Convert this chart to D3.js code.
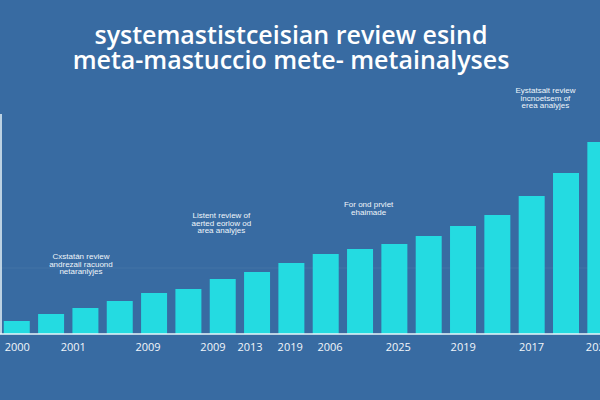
<!DOCTYPE html>
<html>
<head>
<meta charset="utf-8">
<script src="https://cdn.jsdelivr.net/npm/d3@7"></script>
<style>
    body { margin: 0; background: #386ba2; }
    svg { display: block; }
    .tick text { font-family: "Open Sans", sans-serif; }
</style>
</head>
<body>
<svg id="chart" width="600" height="400"></svg>
<script>
// bar values (bars rise left to right)
let barValues = [13, 20, 26, 33, 41, 45, 55, 62, 71, 80, 85, 90, 98, 108, 119, 138, 161, 192];

// x-axis labels and where they sit, in bar-index units
let tickLabels = ["2000", "2001", "2009", "2009", "2013", "2019", "2006", "2025", "2019", "2017", "2021"];
let tickPositions = [0, 1.63, 3.81, 5.7, 6.78, 7.95, 9.11, 11.1, 12.99, 14.98, 16.93];

let titleLines = ["systemastistceisian review esind", "meta-mastuccio mete- metainalyses"];

// annotations: text lines, bar-index position and value height
let noteLines = [
    ["Cxstatán review", "andrezail racuond", "netaranlyjes"],
    ["Listent review of", "aerted eorlow od", "area analyjes"],
    ["For ond prvlet", "ehaimade"],
    ["Eystatsalt review", "incnoetsem of", "erea analyjes"]
];
let noteX = [1.87, 5.96, 10.25, 15.4];
let noteY = [75, 116, 127, 241];

let gridValues = [66];

function make_scales(margin) {
    let x = d3.scaleBand()
        .domain(d3.range(barValues.length))
        .range([-0.4, 617.5])
        .paddingInner(0.243)
        .paddingOuter(0.1215);
    let first = x(0) + x.bandwidth() / 2;
    let last = x(barValues.length - 1) + x.bandwidth() / 2;
    return {
        x: x,
        pos: d3.scaleLinear().domain([0, barValues.length - 1]).range([first, last]),
        y: d3.scaleLinear().domain([0, 200]).range([margin.baseline, margin.baseline - 200])
    };
}

function visualize() {
    let margin = { baseline: 334, axisTop: 114 };
    let scales = make_scales(margin);
    let svg = d3.select("#chart");

    svg.append("rect")
        .attr("width", 600).attr("height", 400)
        .attr("fill", "#386ba2");

    // faint gridline
    svg.selectAll(".grid")
        .data(gridValues).enter()
        .append("line")
        .attr("x1", 0).attr("x2", 600)
        .attr("y1", d => scales.y(d)).attr("y2", d => scales.y(d))
        .attr("stroke", "rgba(255,255,255,0.06)");

    // title
    svg.append("g").selectAll("text")
        .data(titleLines).enter()
        .append("text")
        .attr("x", 291)
        .attr("y", (_, i) => 44 + i * 25)
        .attr("text-anchor", "middle")
        .attr("fill", "#ffffff")
        .style("font-family", "'Open Sans', sans-serif")
        .style("font-weight", 600)
        .style("font-size", "25px")
        .text(d => d);

    // bars
    svg.append("g").selectAll("rect")
        .data(barValues).enter()
        .append("rect")
        .attr("x", (_, i) => scales.x(i))
        .attr("width", scales.x.bandwidth())
        .attr("y", d => scales.y(d))
        .attr("height", d => scales.y(0) - scales.y(d))
        .attr("fill", "#24dbe1");

    // left axis line
    svg.append("line")
        .attr("x1", 1).attr("x2", 1)
        .attr("y1", margin.axisTop).attr("y2", margin.baseline)
        .attr("stroke", "#e8f4f8").attr("stroke-width", 1.5);

    // bottom axis
    let x_axis = d3.axisBottom(scales.pos)
        .tickValues(tickPositions)
        .tickSize(0)
        .tickPadding(9)
        .tickFormat((_, i) => tickLabels[i]);
    let axis = svg.append("g")
        .attr("transform", `translate(0, ${margin.baseline})`)
        .call(x_axis);
    axis.select(".domain").remove();
    axis.selectAll("text")
        .attr("fill", "#f2f6fa")
        .style("font-size", "11px");
    svg.append("line")
        .attr("x1", 0).attr("x2", 600)
        .attr("y1", margin.baseline).attr("y2", margin.baseline)
        .attr("stroke", "#e8f6fa").attr("stroke-width", 1.5);

    // annotations
    let notes = svg.append("g").selectAll("text")
        .data(noteLines).enter()
        .append("text")
        .attr("text-anchor", "middle")
        .attr("fill", "#f0f6fa")
        .style("font-family", "'Liberation Sans', sans-serif")
        .style("font-size", "8px")
        .attr("transform", (_, i) => `translate(${scales.pos(noteX[i])}, ${scales.y(noteY[i])})`);
    notes.selectAll("tspan")
        .data(d => d).enter()
        .append("tspan")
        .attr("x", 0)
        .attr("y", (_, i) => i * 7.6)
        .text(d => d);
}

visualize();
</script>
</body>
</html>
